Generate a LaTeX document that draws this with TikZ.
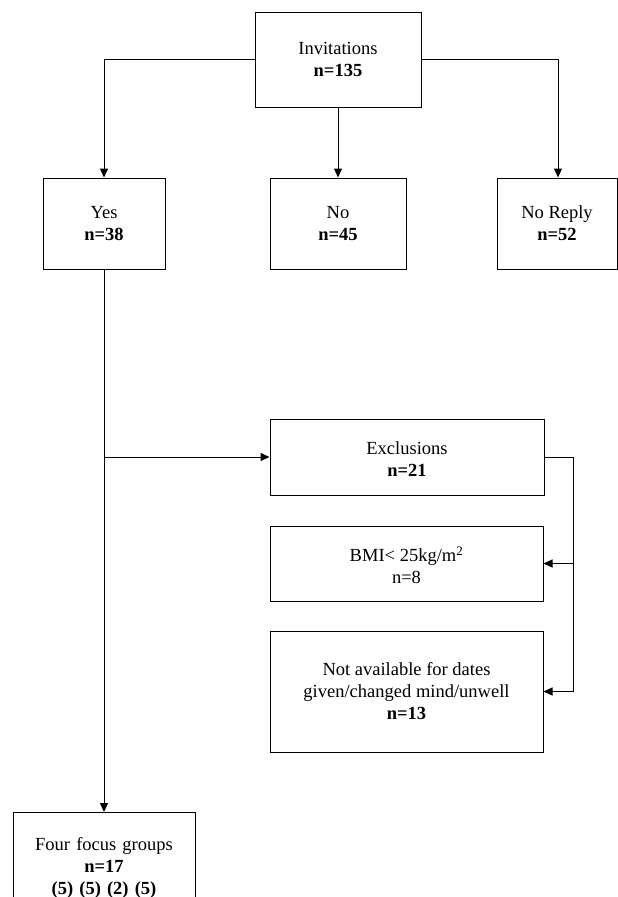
\documentclass[tikz,border=0pt]{standalone}
\usepackage{fontspec}
\setmainfont{Liberation Serif}
\usetikzlibrary{arrows.meta,calc}
\tikzset{
  box/.style={draw, line width=1pt, rectangle, align=center, inner sep=0pt,
    font=\fontsize{18.5}{22}\selectfont},
  arr/.style={line width=1pt, -{Triangle[length=9pt,width=8pt]}},
  ln/.style={line width=1pt}
}
\begin{document}
\begin{tikzpicture}[x=1pt,y=-1pt]
\useasboundingbox (0,0) rectangle (618,897);
\clip (0,0) rectangle (618,897);
\node[box, minimum width=166pt, minimum height=95pt] (inv) at (338,59.5) {Invitations\\\textbf{n=135}};
\node[box, minimum width=122pt, minimum height=91pt] (yes) at (104,223.5) {Yes\\\textbf{n=38}};
\node[box, minimum width=136pt, minimum height=91pt] (no) at (338,223.5) {No\\\textbf{n=45}};
\node[box, minimum width=120pt, minimum height=91pt] (nr) at (557,223.5) {No Reply\\\textbf{n=52}};
\node[box, minimum width=274pt, minimum height=76pt] (excl) at (407,457) {\rule{0pt}{17.5pt}Exclusions\\\textbf{n=21}};
\node[box, minimum width=273pt, minimum height=75pt] (bmi) at (406.5,563.5) {\rule{0pt}{18pt}BMI< 25kg/m\textsuperscript{2}\\n=8};
\node[box, minimum width=273pt, minimum height=121pt] (na) at (406.5,691.5) {Not available for dates\\given/changed mind/unwell\\\textbf{n=13}};
\node[box, anchor=north, text width=170pt, inner xsep=6pt, inner ysep=17pt, minimum height=110pt] (four) at (104,812) {Four focus groups\\\textbf{n=17}\\\textbf{(5) (5) (2) (5)}};
\draw[arr] (inv.west) -| (yes.north);
\draw[arr] (inv.south) -- (no.north);
\draw[arr] (inv.east) -| ([xshift=1pt]nr.north);
\draw[arr] (yes.south) -- (four.north);
\coordinate (j) at (yes.south |- excl.west);
\draw[arr] (j) -- (excl.west);
\coordinate (rt) at ([xshift=29pt]excl.east);
\draw[ln] (excl.east) -- (rt) -- (rt |- na.east);
\draw[arr] (rt |- bmi.east) -- (bmi.east);
\draw[arr] (rt |- na.east) -- (na.east);
\end{tikzpicture}
\end{document}
